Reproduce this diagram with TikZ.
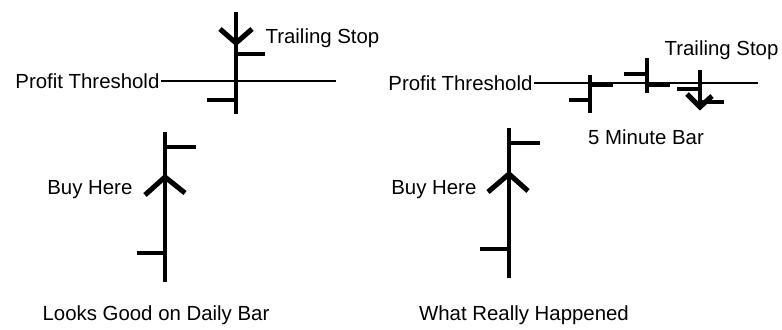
\documentclass[tikz,border=0pt]{standalone}
\usepackage{fontspec}
\setmainfont{Liberation Sans}
\usetikzlibrary{positioning}

\begin{document}
\begin{tikzpicture}[x=0.75pt,y=-0.75pt,
    bar/.style={line width=3pt},
    chevron/.style={line width=3.8pt,line join=miter},
    threshold/.style={line width=1.5pt},
    lbl/.style={font=\fontsize{15.3}{18}\selectfont,inner sep=1pt}
  ]
  \useasboundingbox (0,0) rectangle (782,329);
  % daily bar
  \node[lbl,anchor=east] (pt1) at (161,81) {Profit Threshold};
  \node[lbl,anchor=west] (ts1) at (264,38) {Trailing Stop};
  \node[lbl,anchor=east] (buy1) at (134,190) {Buy Here};
  \node[lbl] (cap1) at (156,315) {Looks Good on Daily Bar};
  \draw[threshold] (pt1.east) -- (336,81);
  \draw[bar] (236,12) -- (236,114);
  \draw[bar] (236,54) -- (265,54);
  \draw[bar] (207,100) -- (236,100);
  \draw[chevron] (220,29) -- (236,43) -- (252,29);
  \draw[bar] (165,132) -- (165,282);
  \draw[bar] (165,147) -- (196,147);
  \draw[bar] (137,253) -- (165,253);
  \draw[chevron] (145,195) -- (165,177) -- (185,193);
  % five minute bars
  \node[lbl,anchor=east] (pt2) at (534,83) {Profit Threshold};
  \node[lbl,anchor=east] (ts2) at (780,50) {Trailing Stop};
  \node[lbl] (bar5) at (646,137) {5 Minute Bar};
  \node[lbl,anchor=east] (buy2) at (478,190) {Buy Here};
  \node[lbl] (cap2) at (524,315) {What Really Happened};
  \draw[threshold] (pt2.east) -- (758,83);
  \draw[bar] (590,75) -- (590,113);
  \draw[bar] (569,100) -- (590,100);
  \draw[bar] (590,85) -- (613,85);
  \draw[bar] (647,58) -- (647,93);
  \draw[bar] (624,74) -- (647,74);
  \draw[bar] (647,85) -- (670,85);
  \draw[bar] (700,70) -- (700,108);
  \draw[bar] (677,89) -- (700,89);
  \draw[bar] (700,102) -- (724,102);
  \draw[chevron] (687,94) -- (700,107) -- (712,96);
  \draw[bar] (509,128) -- (509,278);
  \draw[bar] (509,143) -- (540,143);
  \draw[bar] (480,249) -- (509,249);
  \draw[chevron] (488,192) -- (509,174) -- (528,191);
\end{tikzpicture}
\end{document}
